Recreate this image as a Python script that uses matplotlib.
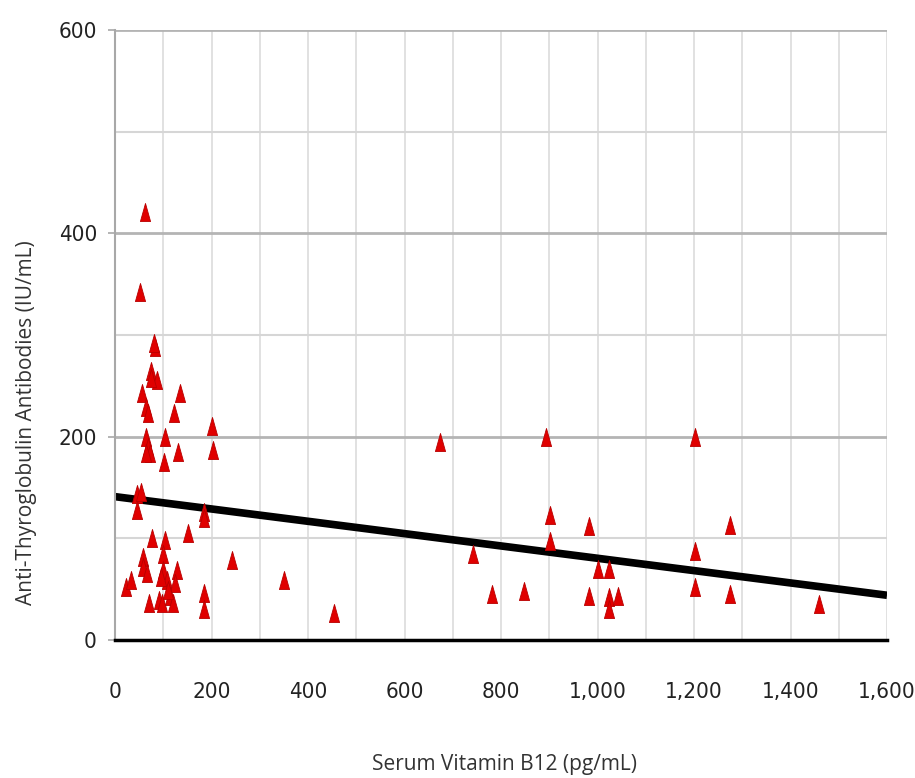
import matplotlib
matplotlib.use("Agg")
import matplotlib.pyplot as plt
import numpy as np
from matplotlib.path import Path

# serum vitamin B12 (pg/mL) vs anti-thyroglobulin antibodies (IU/mL)
b12 = [62, 51, 83, 80, 74, 87, 74, 135, 55, 64, 68, 123, 200, 204, 104, 64, 69, 73, 65,
       130, 102, 45, 53, 45, 185, 185, 76, 104, 151, 242, 351, 59, 59, 66, 100, 100, 107,
       128, 124, 23, 34, 71, 92, 97, 114, 120, 185, 185, 95, 110, 454,
       673, 894, 1202, 902, 983, 1275, 902, 741, 1202, 1002, 1023, 782, 848, 983,
       1023, 1042, 1023, 1202, 1275, 1459]
tgab = [421, 342, 288, 292, 265, 256, 258, 243, 243, 229, 223, 223, 210, 187, 200, 200, 190, 184, 184,
        185, 175, 144, 146, 128, 126, 120, 100, 98, 105, 79, 59, 82, 72, 66, 85, 69, 59,
        69, 56, 52, 59, 36, 39, 36, 43, 36, 46, 30, 62, 49, 27,
        195, 200, 200, 123, 112, 113, 97, 85, 88, 70, 70, 45, 48, 43,
        42, 43, 30, 52, 45, 35]

trend_x = [0, 1600]
trend_y = [141, 44]

xticks = [0, 200, 400, 600, 800, 1000, 1200, 1400, 1600]
xtick_labels = ["0", "200", "400", "600", "800", "1,000", "1,200", "1,400", "1,600"]
yticks = [0, 200, 400, 600]

fig = plt.figure(figsize=(9.15, 7.78), dpi=100)
ax = fig.add_axes([0.1257, 0.1774, 0.8437, 0.784])

# light grid every 100, darker horizontal lines every 200
for v in range(100, 1700, 100):
    ax.axvline(v, color="#dcdcdc", lw=1.2, zorder=0)
for v in range(100, 600, 200):
    ax.axhline(v, color="#d6d6d6", lw=1.5, zorder=0)
for v in range(200, 700, 200):
    ax.axhline(v, color="#b4b4b4", lw=2.0, zorder=0)

ax.plot(trend_x, trend_y, color="black", lw=5.5, solid_capstyle="butt", zorder=2)

tri = Path([(-0.28, -0.5), (0.28, -0.5), (0, 0.5), (-0.28, -0.5)],
           [Path.MOVETO, Path.LINETO, Path.LINETO, Path.CLOSEPOLY])
ax.scatter(b12, tgab, marker=tri, s=170, facecolor="#e00000", edgecolor="#b80000",
           linewidth=0.6, zorder=3)

ax.set_xlim(0, 1600)
ax.set_ylim(0, 600)

for s in ["top", "right"]:
    ax.spines[s].set_visible(False)
ax.spines["left"].set_color("#a8a8a8")
ax.spines["left"].set_linewidth(1.5)
ax.spines["bottom"].set_color("black")
ax.spines["bottom"].set_linewidth(2.5)

tick_font = dict(family=["DejaVu Sans"], stretch="condensed", size=16)
ax.set_xticks(xticks)
ax.set_xticklabels(xtick_labels, fontdict=tick_font)
ax.set_yticks(yticks)
ax.set_yticklabels([str(v) for v in yticks], fontdict=tick_font)
ax.tick_params(axis="x", length=0, pad=30, colors="#222222")
ax.tick_params(axis="y", length=5, width=1.2, color="#a8a8a8", pad=8, labelcolor="#222222")

label_font = dict(family=["Open Sans", "DejaVu Sans"], size=15, color="#333333")
ax.set_xlabel("Serum Vitamin B12 (pg/mL)", **label_font)
ax.set_ylabel("Anti-Thyroglobulin Antibodies (IU/mL)", **label_font)
ax.xaxis.set_label_coords(0.505, -0.187)
ax.yaxis.set_label_coords(-0.101, 0.357)

fig.savefig("out.png", dpi=100, facecolor="white")
